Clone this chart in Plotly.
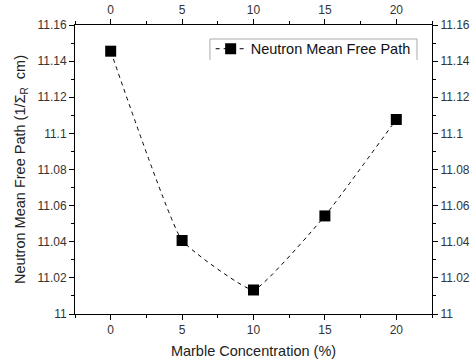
import plotly.graph_objects as go

concentration = [0, 5, 10, 15, 20]
mfp = [11.1455, 11.0407, 11.0133, 11.0543, 11.1077]
x_ticks = [0, 5, 10, 15, 20]
y_ticks = [11, 11.02, 11.04, 11.06, 11.08, 11.1, 11.12, 11.14, 11.16]
y_tick_text = ["11", "11.02", "11.04", "11.06", "11.08", "11.1", "11.12", "11.14", "11.16"]

FONT = "Liberation Sans, Arial, sans-serif"
xr = [-2.5, 22.5]
yr = [11.0, 11.16]

fig = go.Figure()
fig.add_trace(go.Scatter(
    x=concentration, y=mfp, mode="lines+markers",
    name="Neutron Mean Free Path",
    line=dict(color="black", dash="4px,4px", width=1, shape="spline", smoothing=0.35),
    marker=dict(symbol="square", size=11, color="black"),
))
fig.add_trace(go.Scatter(x=concentration, y=mfp, xaxis="x2", yaxis="y2",
                         mode="markers", marker=dict(opacity=0), showlegend=False,
                         hoverinfo="skip"))

common = dict(showgrid=False, zeroline=False, showline=True, linecolor="black", linewidth=1,
              ticks="outside", ticklen=5, tickcolor="black", automargin=False,
              tickfont=dict(family=FONT, size=12, color="#333"))

fig.update_layout(
    width=473, height=362,
    margin=dict(l=75, r=41, t=25, b=48),
    paper_bgcolor="white", plot_bgcolor="white",
    font=dict(family=FONT, color="#222"),
    xaxis=dict(range=xr, tickvals=x_ticks,
               minor=dict(ticks="outside", ticklen=3, dtick=2.5, tick0=0, tickcolor="black"),
               title=dict(text="Marble Concentration (%)", font=dict(family=FONT, size=14.5), standoff=9),
               **common),
    yaxis=dict(range=yr, tickvals=y_ticks, ticktext=y_tick_text,
               minor=dict(ticks="outside", ticklen=3, dtick=0.01, tick0=11, tickcolor="black"),
               title=dict(text="Neutron Mean Free Path (1/Σ<sub>R</sub>  cm)", font=dict(family=FONT, size=14.5), standoff=8),
               **common),
    xaxis2=dict(range=xr, tickvals=x_ticks, overlaying="x", side="top", anchor="y",
                minor=dict(ticks="outside", ticklen=3, dtick=2.5, tick0=0, tickcolor="black"),
                **common),
    yaxis2=dict(range=yr, tickvals=y_ticks, ticktext=y_tick_text, overlaying="y", side="right", anchor="x",
                minor=dict(ticks="outside", ticklen=3, dtick=0.01, tick0=11, tickcolor="black"),
                **common),
    legend=dict(x=0.380, y=0.973, xanchor="left", yanchor="top",
                borderwidth=0, bgcolor="rgba(0,0,0,0)",
                font=dict(family=FONT, size=14.5, color="#111"),
                itemwidth=30, tracegroupgap=0),
    showlegend=True,
    shapes=[
        dict(type="line", xref="paper", yref="paper", x0=0.378, x1=0.958, y0=0.9516, y1=0.9516,
             line=dict(color="#aaa", width=1)),
        dict(type="line", xref="paper", yref="paper", x0=0.378, x1=0.378, y0=0.9516, y1=0.879,
             line=dict(color="#aaa", width=1)),
        dict(type="line", xref="paper", yref="paper", x0=0.958, x1=0.958, y0=0.9516, y1=0.879,
             line=dict(color="#aaa", width=1)),
    ],
)

fig.write_html("out.html")
